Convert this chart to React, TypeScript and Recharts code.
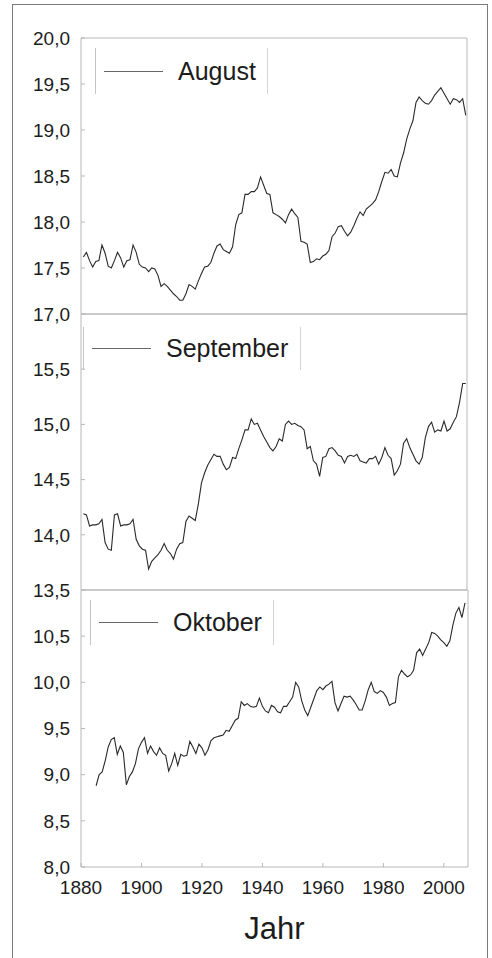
import React from "react";
import { LineChart, Line, XAxis, YAxis, Legend } from "recharts";

// Monatsmittel der Temperatur (gleitend)
const augustStart = 1885;
const augustTemp = [
  17.62, 17.67, 17.58, 17.51, 17.57, 17.58, 17.75, 17.66, 17.52, 17.5,
  17.58, 17.67, 17.61, 17.51, 17.58, 17.59, 17.75, 17.67, 17.54, 17.51,
  17.5, 17.46, 17.5, 17.49, 17.42, 17.3,
  17.33, 17.3, 17.26, 17.22, 17.19, 17.15, 17.15, 17.22, 17.32, 17.3,
  17.27, 17.36, 17.44, 17.51, 17.52, 17.56, 17.66, 17.74, 17.76, 17.7,
  17.68, 17.66, 17.73, 17.97, 18.08, 18.1, 18.3, 18.3, 18.33, 18.33,
  18.37, 18.49, 18.4, 18.31, 18.3,
  18.1, 18.08, 18.06, 18.03, 17.99, 18.08, 18.14, 18.09, 18.05, 17.79,
  17.78, 17.76, 17.56, 17.57, 17.6, 17.59, 17.63, 17.65, 17.69, 17.84,
  17.88, 17.95, 17.96, 17.9, 17.85, 17.89, 17.96, 18.04, 18.11, 18.07,
  18.14, 18.17, 18.2, 18.24, 18.33, 18.44,
  18.54, 18.53, 18.57, 18.5, 18.49, 18.64, 18.75, 18.9, 19.01, 19.1,
  19.3, 19.36, 19.32, 19.29, 19.28, 19.32, 19.38, 19.42, 19.46, 19.4,
  19.34, 19.28, 19.34, 19.33, 19.3, 19.34, 19.16,
];

const septemberStart = 1885;
const septemberTemp = [
  14.19, 14.18, 14.08, 14.09, 14.09, 14.1, 14.14, 13.93, 13.87, 13.86,
  14.18, 14.19, 14.08, 14.09, 14.09, 14.1, 14.14, 13.96, 13.9, 13.87,
  13.86, 13.69, 13.76, 13.79, 13.82, 13.86,
  13.92, 13.86, 13.83, 13.78, 13.87, 13.92, 13.93, 14.12, 14.17, 14.15,
  14.13, 14.28, 14.47, 14.56, 14.63, 14.68, 14.73, 14.71, 14.71, 14.64,
  14.59, 14.61, 14.7, 14.69, 14.78, 14.86, 14.95, 14.95, 15.05, 15.0,
  15.01, 14.95, 14.89, 14.84, 14.79,
  14.76, 14.8, 14.87, 14.85, 15.0, 15.03, 15.0, 15.01, 14.99, 14.98,
  14.95, 14.78, 14.8, 14.67, 14.64, 14.53, 14.7, 14.71, 14.78, 14.79,
  14.76, 14.72, 14.71, 14.65, 14.71, 14.72, 14.71, 14.73, 14.67, 14.66,
  14.65, 14.69, 14.69, 14.71, 14.64, 14.7,
  14.79, 14.72, 14.69, 14.54, 14.58, 14.64, 14.83, 14.87, 14.79, 14.73,
  14.67, 14.64, 14.7, 14.88, 14.98, 15.02, 14.93, 14.95, 14.94, 15.03,
  14.94, 14.96, 15.02, 15.07, 15.2, 15.37, 15.37,
];

const oktoberStart = 1885;
const oktoberTemp = [
  8.88, 9.0, 9.03, 9.15, 9.3, 9.38, 9.4, 9.22, 9.31, 9.24,
  8.89, 8.98, 9.03, 9.12, 9.28, 9.35, 9.4, 9.23, 9.31, 9.25,
  9.21, 9.29, 9.23, 9.21, 9.04, 9.12, 9.23, 9.1, 9.22, 9.2,
  9.21, 9.36, 9.3, 9.23, 9.33, 9.29, 9.21, 9.27, 9.37, 9.4,
  9.41, 9.42, 9.43, 9.48, 9.47, 9.53, 9.59, 9.61, 9.79, 9.75,
  9.77, 9.74, 9.73, 9.74, 9.83, 9.74, 9.69, 9.67, 9.75, 9.73,
  9.68, 9.67, 9.74, 9.74, 9.79, 9.84, 10.0, 9.95, 9.8, 9.7,
  9.64, 9.73, 9.82, 9.91, 9.95, 9.92, 9.96, 9.98, 10.01, 9.78,
  9.69, 9.77, 9.85, 9.84, 9.85, 9.81, 9.76, 9.7, 9.7, 9.8,
  9.92, 10.0, 9.9, 9.88, 9.91, 9.89, 9.84, 9.75, 9.77, 9.78,
  10.06, 10.13, 10.09, 10.06, 10.08, 10.13, 10.32, 10.36, 10.29, 10.36,
  10.43, 10.54, 10.53, 10.5, 10.46, 10.43, 10.39, 10.45, 10.62, 10.75,
  10.81, 10.7, 10.86,
];

const yearTicks = [1880, 1900, 1920, 1940, 1960, 1980, 2000];
const upperYearTicks = [1900, 1920, 1940, 1960, 1980, 2000];
const augustTicks = [17, 17.5, 18, 18.5, 19, 19.5, 20];
const septemberTicks = [13.5, 14, 14.5, 15, 15.5];
const oktoberTicks = [8, 8.5, 9, 9.5, 10, 10.5];

const FONT = "'Liberation Sans', Arial, sans-serif";
const AXIS = "#b8b8b8";
const INK = "#1c1c1c";

const toRows = (start: number, values: number[]) =>
  values.map((t, i) => ({ year: start + i, t }));

const fmt = (v: number) => v.toFixed(1).replace(".", ",");

function LegendBox(props: any) {
  const item = props.payload && props.payload[0];
  if (!item) return null;
  return (
    <div
      style={{
        display: "flex",
        alignItems: "center",
        height: "100%",
        boxSizing: "border-box",
        borderLeft: "1px solid #c4c4c4",
        borderRight: "1px solid #d4d4d4",
        paddingLeft: 8,
        fontFamily: FONT,
      }}
    >
      <svg width={59} height={3}>
        <line x1={0} y1={1.5} x2={59} y2={1.5} stroke="#666" strokeWidth={1} />
      </svg>
      <span style={{ marginLeft: 15, fontSize: 25, color: INK, lineHeight: 1 }}>
        {item.value}
      </span>
    </div>
  );
}

type PanelProps = {
  name: string;
  rows: { year: number; t: number }[];
  top: number;
  plotH: number;
  right: number;
  xDomain: [number, number];
  xTicks: number[];
  yDomain: [number, number];
  yTicks: number[];
  showX: boolean;
  legend: { left: number; top: number; width: number; height: number };
};

function Panel(p: PanelProps) {
  const bottomAxisH = p.showX ? 40 : 1;
  const marginBottom = p.showX ? 40 : 12;
  const height = 12 + 1 + p.plotH + bottomAxisH + marginBottom;
  return (
    <div style={{ position: "absolute", left: 0, top: p.top - 13 }}>
      <LineChart
        width={492}
        height={height}
        data={p.rows}
        margin={{ top: 12, right: p.right, left: 0, bottom: marginBottom }}
      >
        <XAxis
          xAxisId="b"
          dataKey="year"
          type="number"
          domain={p.xDomain}
          ticks={p.xTicks}
          orientation="bottom"
          height={bottomAxisH}
          stroke={AXIS}
          tickSize={-4}
          tickMargin={p.showX ? 18 : 0}
          tick={p.showX ? { fontSize: 19, fill: INK, fontFamily: FONT } : false}
          label={
            p.showX
              ? { value: "Jahr", position: "bottom", offset: 10, fontSize: 31, fill: INK, fontFamily: FONT }
              : undefined
          }
        />
        <XAxis
          xAxisId="t"
          dataKey="year"
          type="number"
          domain={p.xDomain}
          ticks={p.xTicks.filter((y) => y > p.xDomain[0])}
          orientation="top"
          height={1}
          stroke={AXIS}
          tickSize={-4}
          tick={false}
        />
        <YAxis
          yAxisId="l"
          type="number"
          domain={p.yDomain}
          ticks={p.yTicks}
          width={81}
          stroke={AXIS}
          tickSize={-4}
          tickMargin={15}
          tickFormatter={fmt}
          tick={{ fontSize: 19, fill: INK, fontFamily: FONT }}
        />
        <YAxis
          yAxisId="r"
          orientation="right"
          type="number"
          domain={p.yDomain}
          ticks={p.yTicks}
          width={1}
          stroke={AXIS}
          tickSize={-4}
          tick={false}
        />
        <Legend
          layout="vertical"
          align="center"
          verticalAlign="middle"
          content={LegendBox}
          wrapperStyle={{
            position: "absolute",
            left: p.legend.left,
            top: p.legend.top,
            width: p.legend.width,
            height: p.legend.height,
          }}
        />
        <Line
          xAxisId="b"
          yAxisId="l"
          name={p.name}
          dataKey="t"
          type="linear"
          stroke="#2a2a2a"
          strokeWidth={1.1}
          dot={false}
          isAnimationActive={false}
        />
      </LineChart>
    </div>
  );
}

export default function App() {
  return (
    <div
      style={{
        position: "absolute",
        left: 0,
        top: 0,
        width: 492,
        height: 958,
        overflow: "hidden",
        background: "#fff",
        fontFamily: FONT,
      }}
    >
      <div
        style={{
          position: "absolute",
          left: 12,
          top: 4,
          width: 474,
          height: 1000,
          border: "1.5px solid #7a7a7a",
        }}
      />
      <Panel
        name="August"
        rows={toRows(augustStart, augustTemp)}
        top={38}
        plotH={276}
        right={24}
        xDomain={[1884.25, 2008.4]}
        xTicks={upperYearTicks}
        yDomain={[17, 20]}
        yTicks={augustTicks}
        showX={false}
        legend={{ left: 95, top: 23, width: 173, height: 46 }}
      />
      <Panel
        name="September"
        rows={toRows(septemberStart, septemberTemp)}
        top={314}
        plotH={276}
        right={24}
        xDomain={[1884.25, 2008.4]}
        xTicks={upperYearTicks}
        yDomain={[13.5, 16]}
        yTicks={septemberTicks}
        showX={false}
        legend={{ left: 83, top: 26, width: 218, height: 43 }}
      />
      <Panel
        name="Oktober"
        rows={toRows(oktoberStart, oktoberTemp)}
        top={590}
        plotH={277}
        right={23}
        xDomain={[1880, 2008]}
        xTicks={yearTicks}
        yDomain={[8, 11]}
        yTicks={oktoberTicks}
        showX={true}
        legend={{ left: 90, top: 23, width: 184, height: 45 }}
      />
    </div>
  );
}
